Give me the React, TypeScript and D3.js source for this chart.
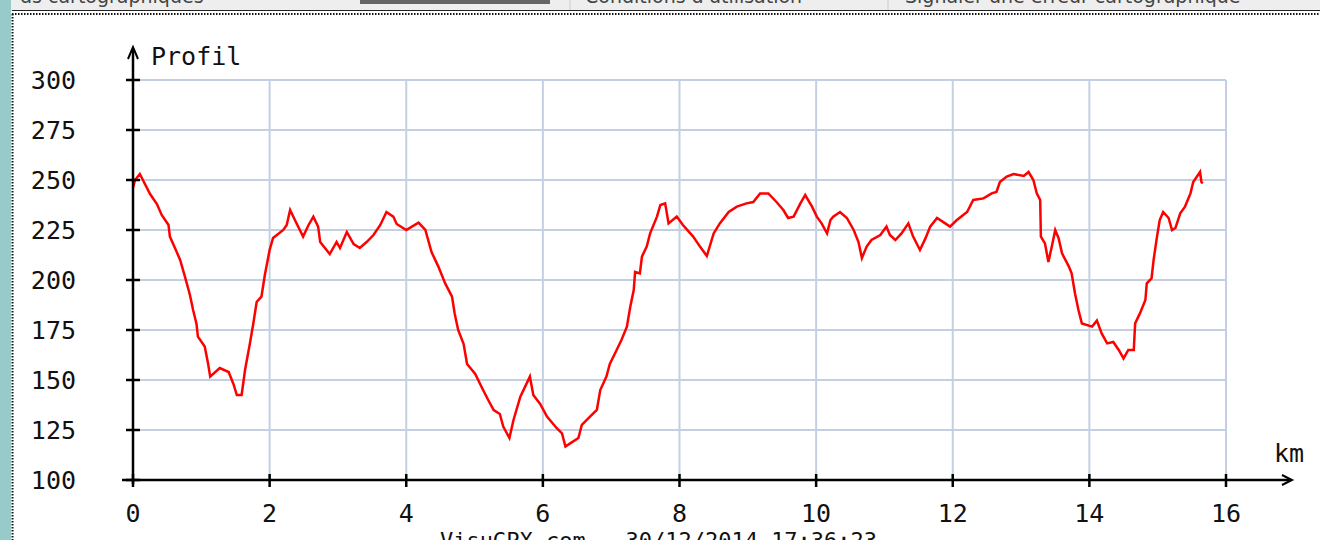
import { scaleLinear, line as d3_line } from "d3";

// distance along the track (km) and elevation (m)
const km = [
  0, 0.03, 0.1, 0.25, 0.35, 0.42, 0.52, 0.54, 0.64, 0.69, 0.76, 0.83, 0.88, 0.93, 0.95, 1.05, 1.1, 1.13,
  1.27, 1.4, 1.47, 1.52, 1.59, 1.64, 1.71, 1.76, 1.81, 1.88, 1.93, 2.0, 2.05, 2.2, 2.25, 2.3, 2.37, 2.49,
  2.57, 2.64, 2.71, 2.74, 2.88, 2.98, 3.03, 3.13, 3.23, 3.32, 3.42, 3.52, 3.62, 3.71, 3.81, 3.86, 4.0,
  4.18, 4.28, 4.37, 4.47, 4.57, 4.67, 4.71, 4.76, 4.84, 4.89, 5.01, 5.11, 5.2, 5.28, 5.37, 5.42, 5.51,
  5.57, 5.67, 5.74, 5.81, 5.86, 5.96, 6.06, 6.2, 6.28, 6.33, 6.4, 6.52, 6.57, 6.69, 6.79, 6.84, 6.93,
  6.98, 7.08, 7.15, 7.23, 7.28, 7.33, 7.35, 7.42, 7.45, 7.52, 7.57, 7.67, 7.72, 7.79, 7.84, 7.96, 8.05,
  8.2, 8.3, 8.4, 8.5, 8.59, 8.72, 8.84, 8.98, 9.08, 9.18, 9.3, 9.42, 9.52, 9.59, 9.67, 9.77, 9.84, 9.94,
  10.01, 10.08, 10.16, 10.21, 10.25, 10.35, 10.45, 10.55, 10.62, 10.67, 10.74, 10.81, 10.94, 11.03,
  11.08, 11.16, 11.25, 11.35, 11.42, 11.52, 11.6, 11.67, 11.77, 11.89, 11.96, 12.06, 12.21, 12.3, 12.45,
  12.57, 12.64, 12.69, 12.79, 12.89, 13.04, 13.11, 13.18, 13.23, 13.28, 13.29, 13.35, 13.4, 13.45, 13.5,
  13.55, 13.6, 13.7, 13.74, 13.79, 13.84, 13.89, 14.04, 14.11, 14.18, 14.26, 14.35, 14.43, 14.5, 14.57,
  14.65, 14.67, 14.74, 14.82, 14.84, 14.91, 14.94, 14.99, 15.03, 15.08, 15.16, 15.21, 15.26, 15.33,
  15.4, 15.48, 15.52, 15.62, 15.64, 15.66,
];
const elevation = [
  246, 250, 253, 243, 238, 232.5, 227.5, 221.7, 214, 210, 201.7, 193, 185, 178, 171.7, 166.7, 158, 151.7,
  156, 154, 148, 142.5, 142.5, 155, 168, 178, 189, 191.7, 202.5, 215, 221, 225, 227.5, 235, 230, 221.7,
  227.5, 231.7, 226.7, 219, 213, 219, 216, 224, 218, 216, 219, 222.5, 227.5, 234, 231.7, 228, 225,
  228.7, 225, 214, 206.7, 198.3, 191.7, 183, 175, 168, 158, 153, 146, 140, 135, 133, 126.7, 121,
  130, 141.7, 146.7, 151.7, 142.5, 138, 131.7, 126, 123.3, 116.7, 118.3, 121, 127.5, 131.7, 135, 145, 151.7,
  158, 165, 170, 176.7, 186.7, 195, 204, 203.3, 211.7, 216.7, 223.3, 231.7, 237.5, 238.3, 228.3, 231.7, 227.5,
  221.7, 216.7, 212, 223.3, 228.3, 234, 236.7, 238.3, 239, 243.3, 243.3, 239, 235, 231, 231.7, 238.3, 242.5, 236.7,
  231.7, 228.3, 223.3, 230, 231.7, 234, 231, 225, 219, 211, 216.7, 220, 222.5, 226.7,
  222.5, 220, 223.3, 228.3, 221.7, 215, 220.8, 226.7, 231, 228.3, 226.7, 230, 234, 240, 240.8,
  243.3, 244, 249, 251.7, 253, 252, 254, 250, 243.3, 240, 221.7, 218.3, 209, 216.7, 225,
  220.8, 213.3, 206.7, 203.3, 193.3, 185, 178.3, 176.7, 179.7, 173.3, 168.3, 169, 165, 160.8, 165,
  165, 178.3, 183.3, 190, 198.3, 200.8, 210, 221.7, 230, 234, 231, 225, 226, 233.3,
  236.7, 243.3, 249, 254, 249, 248.3,
];

const xTicks = [0, 2, 4, 6, 8, 10, 12, 14, 16];
const yTicks = [100, 125, 150, 175, 200, 225, 250, 275, 300];

const yAxisTitle = "Profil";
const xAxisTitle = "km";
const footer = "VisuGPX.com - 30/12/2014 17:36:23";
const tabLabels = ["ds cartographiques", "Conditions d'utilisation", "Signaler une erreur cartographique"];

const W = 1320;
const H = 540;
const FONT = "'DejaVu Sans Mono', 'Liberation Mono', monospace";

export default function App() {
  const x = scaleLinear().domain([0, 16]).range([133, 1226]);
  const y = scaleLinear().domain([100, 300]).range([480, 80]);

  const pts = km.map((k, i) => [k, elevation[i]] as [number, number]);
  const path = d3_line<[number, number]>()
    .x((d) => x(d[0]))
    .y((d) => y(d[1]))(pts);

  const gridColor = "#c4d0e2";
  const tabX = [20, 585, 905];

  return (
    <div style={{ position: "absolute", left: 0, top: 0 }}>
      <svg width={W} height={H} style={{ display: "block", background: "#fff" }}>
        {/* page chrome: tab bar on top, teal strip on the left */}
        <rect x={0} y={0} width={W} height={11} fill="#eeeeee" />
        <clipPath id="tabclip">
          <rect x={0} y={0} width={W} height={10} />
        </clipPath>
        <g clipPath="url(#tabclip)" fontFamily="'DejaVu Sans', sans-serif" fontSize={19} fill="#444">
          {tabLabels.map((t, i) => (
            <text key={i} x={tabX[i]} y={3}>
              {t}
            </text>
          ))}
        </g>
        <rect x={360} y={0} width={190} height={4} fill="#666" />
        <line x1={570} x2={570} y1={0} y2={10} stroke="#ccc" strokeWidth={1} />
        <line x1={888} x2={888} y1={0} y2={10} stroke="#ccc" strokeWidth={1} />
        <line x1={12} x2={W} y1={10.5} y2={10.5} stroke="#222" strokeWidth={1} />
        <line x1={12} x2={W} y1={14} y2={14} stroke="#111" strokeWidth={2} strokeDasharray="1.5,1.5" />
        <rect x={0} y={0} width={11} height={H} fill="#96cbc9" />
        <line x1={12.5} x2={12.5} y1={14} y2={H} stroke="#111" strokeWidth={2} strokeDasharray="1.5,1.5" />

        {/* grid */}
        {yTicks.slice(1).map((v) => (
          <line key={"gy" + v} x1={x(0)} x2={x(16)} y1={y(v)} y2={y(v)} stroke={gridColor} strokeWidth={2} />
        ))}
        {xTicks.slice(1).map((v) => (
          <line key={"gx" + v} x1={x(v)} x2={x(v)} y1={y(300)} y2={y(100)} stroke={gridColor} strokeWidth={2} />
        ))}

        {/* profile */}
        <path d={path ?? ""} fill="none" stroke="#ff0000" strokeWidth={2.5} strokeLinejoin="miter" />

        {/* axes */}
        <g stroke="#000" strokeWidth={2.5}>
          <line x1={x(0)} x2={x(0)} y1={y(100) + 4} y2={50} />
          <line x1={122} x2={1290} y1={y(100)} y2={y(100)} />
          {yTicks.map((v) => (
            <line key={"ty" + v} x1={x(0) - 7} x2={x(0) + 7} y1={y(v)} y2={y(v)} />
          ))}
          {xTicks.map((v) => (
            <line key={"tx" + v} x1={x(v)} x2={x(v)} y1={y(100) - 6} y2={y(100) + 7} />
          ))}
        </g>
        <path d={`M${x(0) - 5},59 L${x(0)},47 L${x(0) + 5},59`} fill="none" stroke="#000" strokeWidth={2} />
        <path d={`M1282,475 L1292,480 L1282,485`} fill="none" stroke="#000" strokeWidth={2} />

        {/* labels */}
        <g fontFamily={FONT} fontSize={25} fill="#111">
          {yTicks.map((v) => (
            <text key={"ly" + v} x={76} y={y(v)} dy="0.35em" textAnchor="end">
              {v}
            </text>
          ))}
          {xTicks.map((v) => (
            <text key={"lx" + v} x={x(v)} y={522} textAnchor="middle">
              {v}
            </text>
          ))}
          <text x={151} y={65}>
            {yAxisTitle}
          </text>
          <text x={1274} y={462}>
            {xAxisTitle}
          </text>
          <text x={440} y={548} fontSize={22}>
            {footer}
          </text>
        </g>
      </svg>
    </div>
  );
}
